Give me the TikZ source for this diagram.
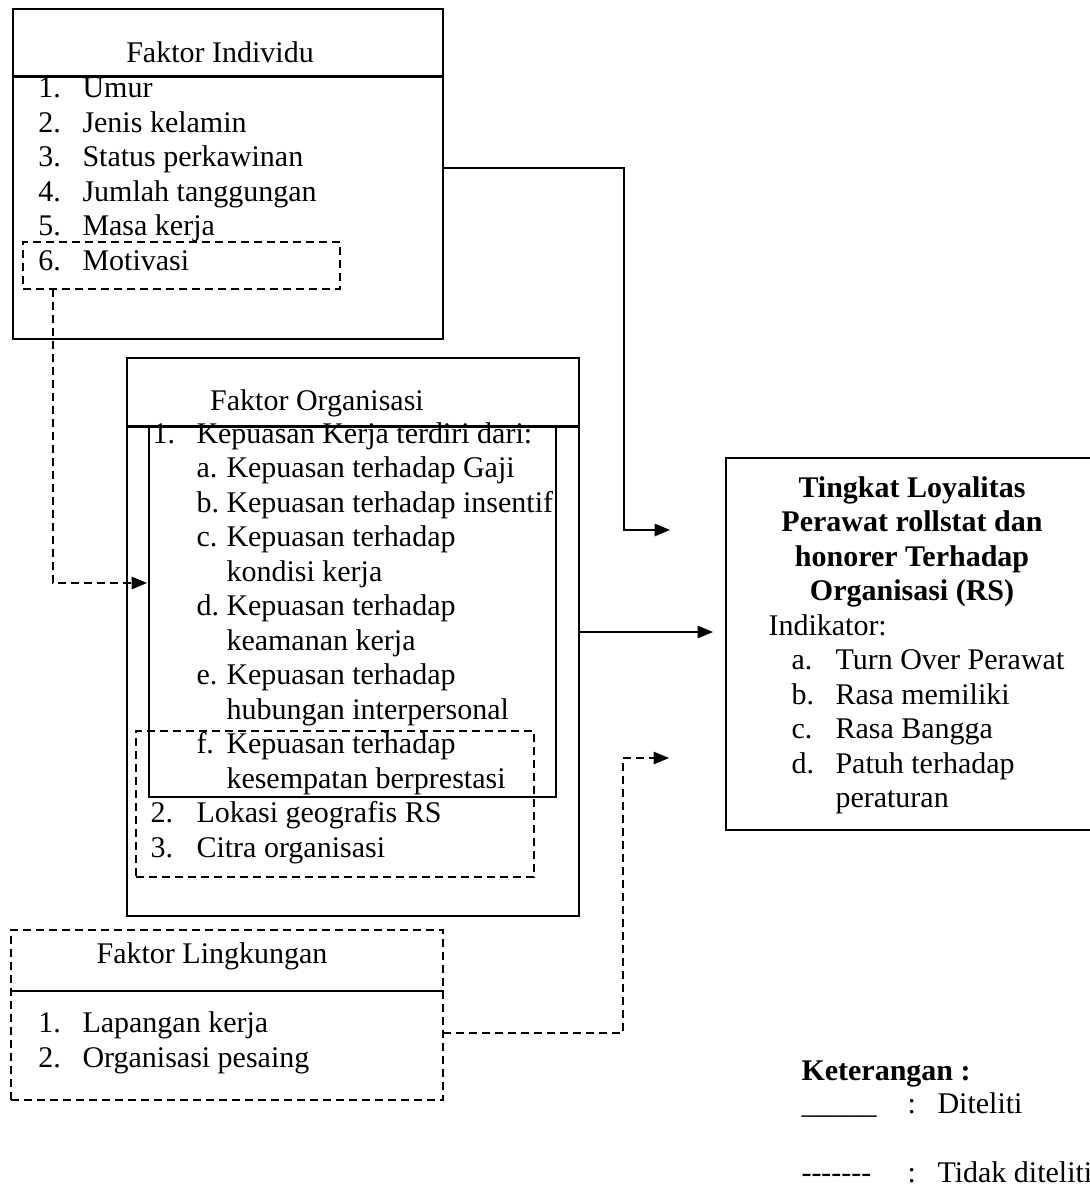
\documentclass[tikz,border=0pt]{standalone}
\usepackage{fontspec}
\setmainfont{Liberation Serif}
\usetikzlibrary{fit,arrows.meta}
\newcommand\mydashes{-\kern0pt-\kern0pt-\kern0pt-\kern0pt-\kern0pt-\kern0pt-}
\tikzset{
  box/.style={draw, line width=0.8pt, inner sep=0pt},
  dbox/.style={draw, line width=0.6pt, dash pattern=on 3.2pt off 2pt, inner sep=0pt},
  hdr/.style={line width=1.2pt},
  txt/.style={anchor=base west, inner sep=0pt, font=\fontsize{12}{13.8}\selectfont},
  ctxt/.style={anchor=base, inner sep=0pt, font=\fontsize{12}{13.8}\selectfont},
  btxt/.style={anchor=base, inner sep=0pt, font=\fontsize{12}{13.8}\selectfont\bfseries},
  conn/.style={line width=0.6pt, -{Triangle[length=6.2pt,width=5pt]}},
  dconn/.style={conn, dash pattern=on 3.2pt off 2pt}
}
\begin{document}
\begin{tikzpicture}[x=0.4pt, y=-0.4pt]
\useasboundingbox (0,0) rectangle (1090,1185);
\fill[white] (0,0) rectangle (1090,1185);
\clip (0,0) rectangle (1090,1185);

% ---------- Faktor Individu ----------
\node[box, fit={(13,9) (443,339)}] (ind) {};
\draw[hdr] (ind.west |- 0,77) -- (ind.east |- 0,77);
\node[ctxt] (indt) at (220,63) {Faktor Individu};
\foreach \t [count=\k] in {Umur, Jenis kelamin, Status perkawinan, Jumlah tanggungan, Masa kerja, Motivasi}{
  \node[txt] (indn\k) at (38,{98+34.5*(\k-1)}) {\k.};
  \node[txt] (indi\k) at (82,{98+34.5*(\k-1)}) {\t};
}
\node[dbox, fit={(23,242) (340,289)}] (mot) {};

% ---------- Faktor Organisasi ----------
\node[box, fit={(127,358) (579,916)}] (org) {};
\draw[hdr] (org.west |- 0,426) -- (org.east |- 0,426);
\node[ctxt] (orgt) at (317,410) {Faktor Organisasi};
\node[box, fit={(149,426) (556,797)}] (kep) {};
\node[txt] (on1) at (152,443) {1.};
\node[txt] (oi1) at (196,443) {Kepuasan Kerja terdiri dari:};
\node[txt] (ka) at (196,477.5) {a.};
\node[txt] (kat) at (226,477.5) {Kepuasan terhadap Gaji};
\node[txt] (kb) at (196,512) {b.};
\node[txt] (kbt) at (226,512) {Kepuasan terhadap insentif};
\node[txt] (kc) at (196,546.5) {c.};
\node[txt] (kct) at (226,546.5) {Kepuasan terhadap};
\node[txt] (kct2) at (226,581) {kondisi kerja};
\node[txt] (kd) at (196,615.5) {d.};
\node[txt] (kdt) at (226,615.5) {Kepuasan terhadap};
\node[txt] (kdt2) at (226,650) {keamanan kerja};
\node[txt] (ke) at (196,684.5) {e.};
\node[txt] (ket) at (226,684.5) {Kepuasan terhadap};
\node[txt] (ket2) at (226,719) {hubungan interpersonal};
\node[txt] (kf) at (196,753.5) {f.};
\node[txt] (kft) at (226,753.5) {Kepuasan terhadap};
\node[txt] (kft2) at (226,788) {kesempatan berprestasi};
\node[txt] (on2) at (150,822.5) {2.};
\node[txt] (oi2) at (196,822.5) {Lokasi geografis RS};
\node[txt] (on3) at (150,857) {3.};
\node[txt] (oi3) at (196,857) {Citra organisasi};
\node[dbox, fit={(136,731) (534,877)}] (nondb) {};

% ---------- Tingkat Loyalitas ----------
\node[box, fit={(726,458) (1100,830)}] (loy) {};
\node[btxt] (l1) at (912,497) {Tingkat Loyalitas};
\node[btxt] (l2) at (912,531.5) {Perawat rollstat dan};
\node[btxt] (l3) at (912,566) {honorer Terhadap};
\node[btxt] (l4) at (912,600.5) {Organisasi (RS)};
\node[txt] (lind) at (768,635) {Indikator:};
\node[txt] (la) at (791,669.5) {a.};
\node[txt] (lat) at (835,669.5) {Turn Over Perawat};
\node[txt] (lb) at (791,704) {b.};
\node[txt] (lbt) at (835,704) {Rasa memiliki};
\node[txt] (lc) at (791,738.5) {c.};
\node[txt] (lct) at (835,738.5) {Rasa Bangga};
\node[txt] (ld) at (791,773) {d.};
\node[txt] (ldt) at (835,773) {Patuh terhadap};
\node[txt] (ldt2) at (835,807.5) {peraturan};

% ---------- Faktor Lingkungan ----------
\node[dbox, fit={(11,930) (443,1100)}] (lin) {};
\draw[line width=0.8pt] (lin.west |- 0,991) -- (lin.east |- 0,991);
\node[ctxt] (lint) at (212,963) {Faktor Lingkungan};
\node[txt] (linn1) at (38,1032) {1.};
\node[txt] (lini1) at (82,1032) {Lapangan kerja};
\node[txt] (linn2) at (38,1067) {2.};
\node[txt] (lini2) at (82,1067) {Organisasi pesaing};

% ---------- Connectors ----------
\coordinate (c1s) at (443,168);
\coordinate (c1t) at (670,530);
\draw[conn] (c1s) -| (624,530) -- (c1t);

\coordinate (c2s) at (579,632);
\coordinate (c2t) at (713,632);
\draw[conn] (c2s) -- (c2t);

\coordinate (c3s) at (53,289);
\coordinate (c3t) at (147,583);
\draw[dconn] (c3s) |- (c3t);

\coordinate (c4s) at (443,1033);
\coordinate (c4t) at (669,758);
\draw[dconn] (c4s) -| (623,758) -- (c4t);

% ---------- Legend ----------
\node[txt, font=\fontsize{12}{13.8}\selectfont\bfseries] (ket) at (801,1080) {Keterangan :};
\node[txt] (lg1) at (801,1113) {\_\_\_\_\_};
\node[txt] (lg1c) at (907,1113) {:};
\node[txt] (lg1t) at (937,1113) {Diteliti};
\node[txt] (lg2) at (801,1182) {\mydashes};
\node[txt] (lg2c) at (907,1182) {:};
\node[txt] (lg2t) at (937,1182) {Tidak diteliti};
\end{tikzpicture}
\end{document}
